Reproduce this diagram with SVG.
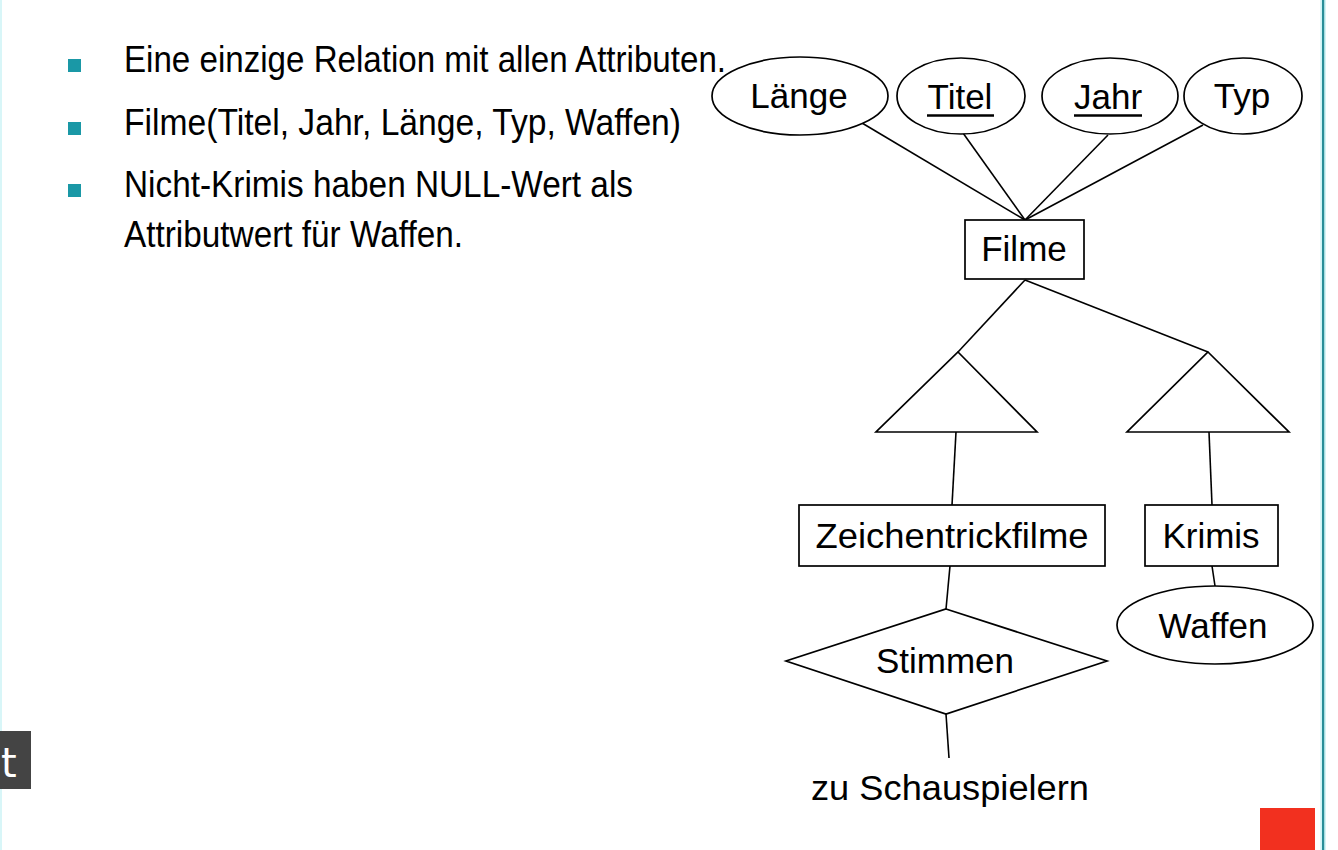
<svg xmlns="http://www.w3.org/2000/svg" width="1338" height="850" viewBox="0 0 1338 850">
<style>
.bt{font-family:"Liberation Sans",Arial,sans-serif;font-size:37px;fill:#000}
.dt{font-family:"Liberation Sans",Arial,sans-serif;font-size:35px;fill:#000;text-anchor:middle}
.sh{fill:#fff;stroke:#000;stroke-width:1.7}
.ln{stroke:#000;stroke-width:1.6;fill:none}
.bul{fill:#1a98a6}
</style>
<rect x="0" y="0" width="1338" height="850" fill="#fff"/>
<rect x="0" y="0" width="2" height="850" fill="#d8f6f8"/>
<rect x="1322" y="0" width="2.5" height="850" fill="#2a8e98"/>
<rect x="1320.5" y="0" width="1.2" height="850" fill="#bfeff2"/>
<rect x="1324.5" y="0" width="1.2" height="850" fill="#bfeff2"/>

<g id="bullets">
<rect class="bul" x="68" y="59" width="13" height="13"/>
<text class="bt" x="124" y="72" textLength="602" lengthAdjust="spacingAndGlyphs">Eine einzige Relation mit allen Attributen.</text>
<rect class="bul" x="68" y="122" width="13" height="13"/>
<text class="bt" x="124" y="135" textLength="557" lengthAdjust="spacingAndGlyphs">Filme(Titel, Jahr, Länge, Typ, Waffen)</text>
<rect class="bul" x="68" y="184" width="13" height="13"/>
<text class="bt" x="124" y="197" textLength="509" lengthAdjust="spacingAndGlyphs">Nicht-Krimis haben NULL-Wert als</text>
<text class="bt" x="124" y="247" textLength="339" lengthAdjust="spacingAndGlyphs">Attributwert für Waffen.</text>
</g>

<g id="connectors">
<line class="ln" x1="862" y1="123" x2="1025" y2="220"/>
<line class="ln" x1="963" y1="133" x2="1025" y2="220"/>
<line class="ln" x1="1108" y1="135" x2="1025" y2="220"/>
<line class="ln" x1="1203" y1="125" x2="1025" y2="220"/>
<line class="ln" x1="1025" y1="280" x2="958" y2="352"/>
<line class="ln" x1="1025" y1="280" x2="1208" y2="352"/>
<line class="ln" x1="956" y1="432" x2="952" y2="505"/>
<line class="ln" x1="1209" y1="432" x2="1212" y2="505"/>
<line class="ln" x1="950" y1="566" x2="946" y2="609"/>
<line class="ln" x1="946" y1="714" x2="949" y2="758"/>
<line class="ln" x1="1212" y1="566" x2="1215" y2="586"/>
</g>

<g id="laenge">
<ellipse class="sh" cx="800" cy="96" rx="88" ry="39"/>
<text class="dt" x="799" y="108">Länge</text>
</g>
<g id="titel">
<ellipse class="sh" cx="961" cy="96" rx="64" ry="38"/>
<text class="dt" x="960" y="109">Titel</text>
<line x1="927" y1="115.5" x2="994" y2="115.5" stroke="#000" stroke-width="2.6"/>
</g>
<g id="jahr">
<ellipse class="sh" cx="1110" cy="96" rx="68" ry="38"/>
<text class="dt" x="1108" y="109">Jahr</text>
<line x1="1074" y1="115.5" x2="1142" y2="115.5" stroke="#000" stroke-width="2.6"/>
</g>
<g id="typ">
<ellipse class="sh" cx="1243" cy="96" rx="59" ry="38"/>
<text class="dt" x="1242" y="108">Typ</text>
</g>
<g id="filme">
<rect class="sh" x="965" y="220" width="119" height="59"/>
<text class="dt" x="1024" y="261">Filme</text>
</g>
<g id="isa-left">
<polygon class="sh" points="958,352 1037,432 876,432"/>
</g>
<g id="isa-right">
<polygon class="sh" points="1208,352 1289,432 1127,432"/>
</g>
<g id="zeichentrickfilme">
<rect class="sh" x="799" y="505" width="306" height="61"/>
<text class="dt" x="952" y="548" textLength="273" lengthAdjust="spacingAndGlyphs">Zeichentrickfilme</text>
</g>
<g id="krimis">
<rect class="sh" x="1145" y="505" width="133" height="61"/>
<text class="dt" x="1211" y="548">Krimis</text>
</g>
<g id="stimmen">
<polygon class="sh" points="946,609 1107,661 946,714 786,661"/>
<text class="dt" x="945" y="673">Stimmen</text>
</g>
<g id="waffen">
<ellipse class="sh" cx="1215" cy="625" rx="98" ry="39"/>
<text class="dt" x="1213" y="638">Waffen</text>
</g>
<g id="zu-schauspielern">
<text class="dt" x="950" y="800" textLength="278" lengthAdjust="spacingAndGlyphs">zu Schauspielern</text>
</g>

<rect x="1260" y="808" width="55" height="42" fill="#f2301f"/>
<g id="overlay">
<rect x="0" y="731" width="31" height="58" fill="#444"/>
<text x="1" y="777" font-family="DejaVu Sans,sans-serif" font-size="40" fill="#fff">t</text>
</g>
</svg>
